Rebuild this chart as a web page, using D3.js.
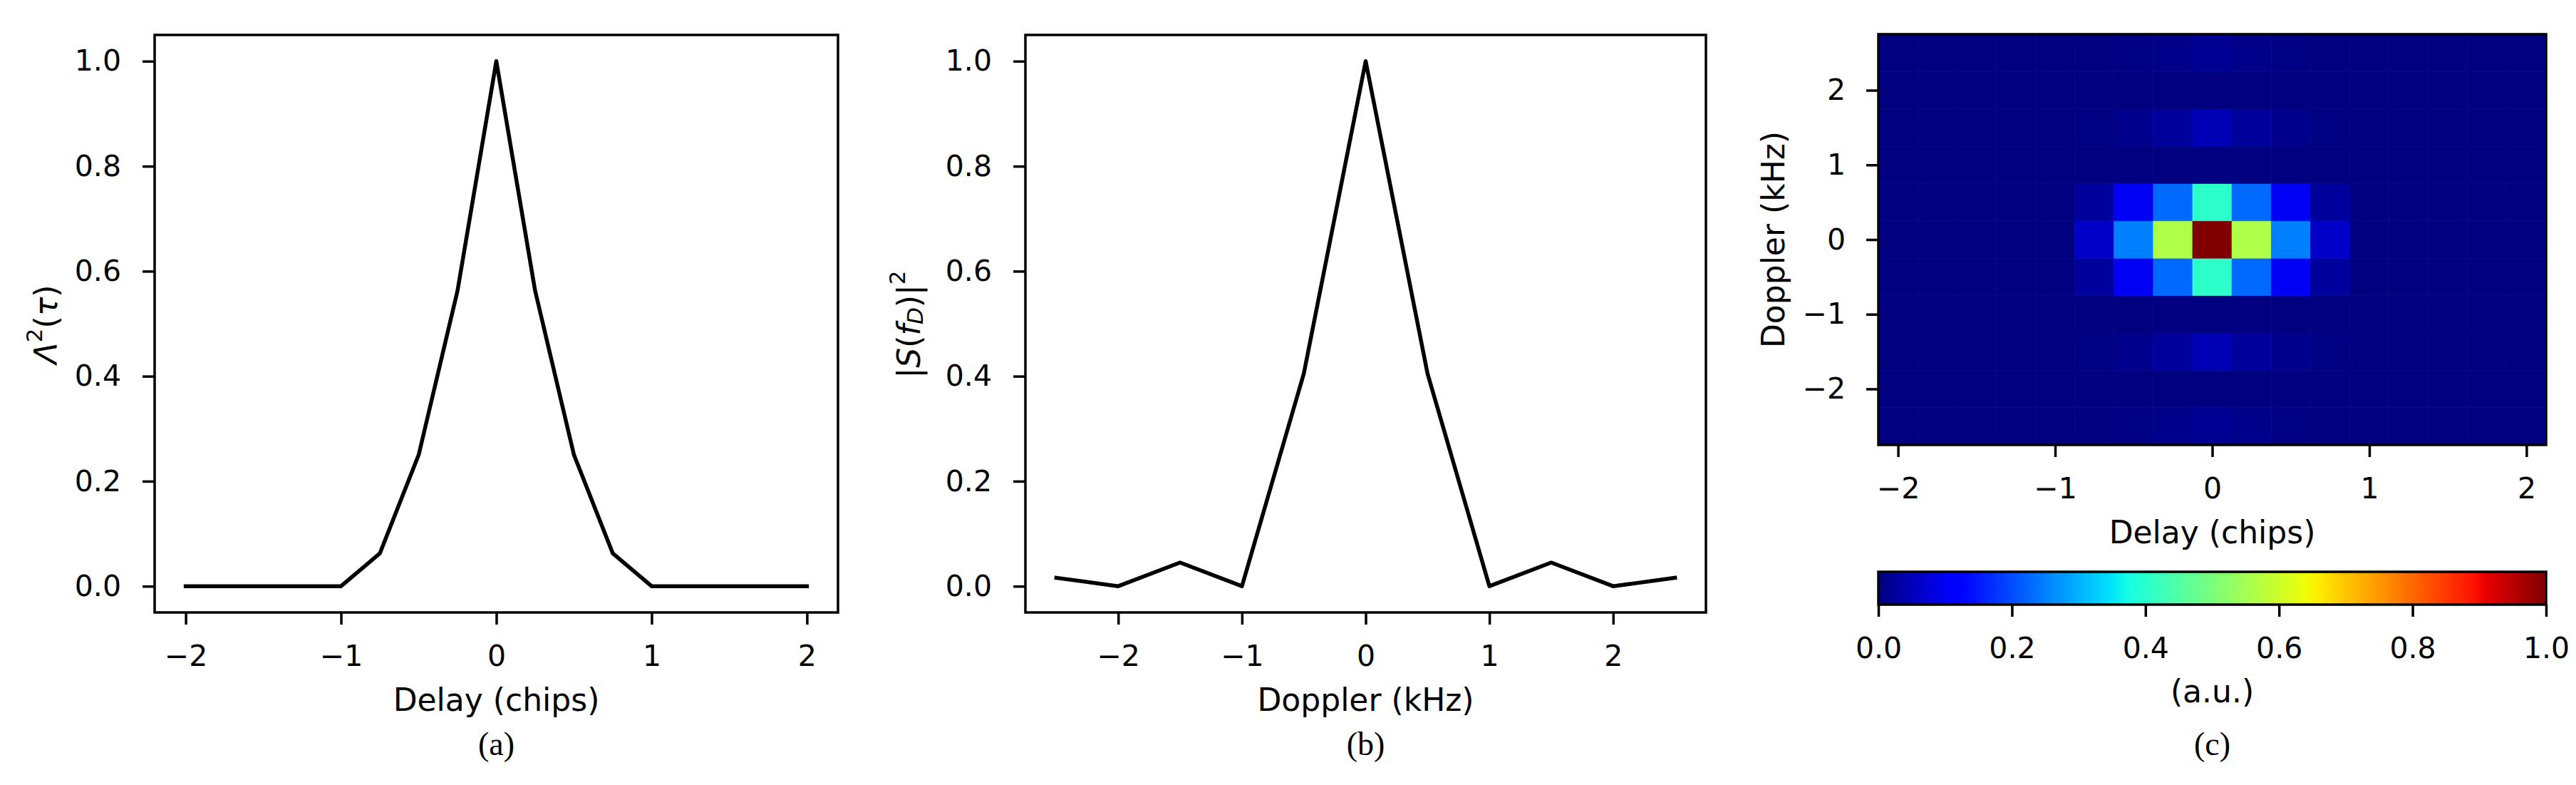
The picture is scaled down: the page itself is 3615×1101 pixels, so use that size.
<!DOCTYPE html>
<html><head><meta charset="utf-8">
<script src="https://cdn.jsdelivr.net/npm/d3@7"></script>
<style>
body{margin:0;background:#fff}
svg{display:block}
text{fill:#000}
</style>
</head><body>
<svg id="chart" width="3615" height="1101" font-family="DejaVu Sans, sans-serif"></svg>
<script>
// ---------- data ----------
const delays = [-2,-1.75,-1.5,-1.25,-1,-0.75,-0.5,-0.25,0,0.25,0.5,0.75,1,1.25,1.5,1.75,2];
const delayPower = [0,0,0,0,0,0.0625,0.25,0.5625,1,0.5625,0.25,0.0625,0,0,0,0,0];
const dopplers = [-2.5,-2,-1.5,-1,-0.5,0,0.5,1,1.5,2,2.5];
const dopplerPower = [0.016,0,0.045,0,0.405,1,0.405,0,0.045,0,0.016];
const delayTicks = [-2,-1,0,1,2];
const dopplerTicks = [-2,-1,0,1,2];
const powerTicks = [0,0.2,0.4,0.6,0.8,1.0];
const colorbarTicks = [0,0.2,0.4,0.6,0.8,1.0];
// heat map rows follow the dopplers order, columns follow the delays order
const heatValues = [
  [0,0,0,0,0,0.001,0.004,0.009,0.016,0.009,0.004,0.001,0,0,0,0,0],
  [0,0,0,0,0,0,0,0,0,0,0,0,0,0,0,0,0],
  [0,0,0,0,0,0.003,0.011,0.025,0.045,0.025,0.011,0.003,0,0,0,0,0],
  [0,0,0,0,0,0,0,0,0,0,0,0,0,0,0,0,0],
  [0,0,0,0,0,0.025,0.101,0.228,0.405,0.228,0.101,0.025,0,0,0,0,0],
  [0,0,0,0,0,0.0625,0.25,0.5625,1,0.5625,0.25,0.0625,0,0,0,0,0],
  [0,0,0,0,0,0.025,0.101,0.228,0.405,0.228,0.101,0.025,0,0,0,0,0],
  [0,0,0,0,0,0,0,0,0,0,0,0,0,0,0,0,0],
  [0,0,0,0,0,0.003,0.011,0.025,0.045,0.025,0.011,0.003,0,0,0,0,0],
  [0,0,0,0,0,0,0,0,0,0,0,0,0,0,0,0,0],
  [0,0,0,0,0,0.001,0.004,0.009,0.016,0.009,0.004,0.001,0,0,0,0,0]
];

// ---------- jet colormap (matplotlib segment data) ----------
const seg = p => d3.scaleLinear().domain(p.map(d=>d[0])).range(p.map(d=>d[1])).clamp(true);
const jr = seg([[0,0],[0.35,0],[0.66,1],[0.89,1],[1,0.5]]);
const jg = seg([[0,0],[0.125,0],[0.375,1],[0.64,1],[0.91,0],[1,0]]);
const jb = seg([[0,0.5],[0.11,1],[0.34,1],[0.65,0],[1,0]]);
const jet = t => d3.rgb(jr(t)*255, jg(t)*255, jb(t)*255).formatHex();

const svg = d3.select("#chart");
svg.append("rect").attr("width",3615).attr("height",1101).attr("fill","#fff");

const TICK = 17, PAD = 29, TICKFS = 41, LABFS = 44, LW = 3.5;
const SANS = "'DejaVu Sans', sans-serif";
const SERIF = "'Liberation Serif', 'Times New Roman', serif";

function styleAxis(g){
  g.attr("font-family",null).attr("font-size",null);
  g.select(".domain").remove();
  g.selectAll(".tick line").attr("stroke","#000").attr("stroke-width",LW);
  g.selectAll(".tick text").attr("fill","#000")
    .style("font-family",SANS).style("font-size",TICKFS+"px");
}

function rotLabel(x, y, parts){
  const t = svg.append("text").attr("transform",`translate(${x},${y}) rotate(-90)`)
    .attr("text-anchor","middle").attr("dominant-baseline","central")
    .style("font-family",SANS).style("font-size",LABFS+"px");
  parts.forEach(p=>{
    const s = t.append("tspan").text(p.t);
    if(p.i) s.style("font-style","italic");
    if(p.fs) s.style("font-size",p.fs+"px");
    if(p.dy) s.attr("dy",p.dy);
  });
}

function hLabel(x, y, txt){
  svg.append("text").attr("x",x).attr("y",y).attr("text-anchor","middle")
    .style("font-family",SANS).style("font-size",LABFS+"px").text(txt);
}

function caption(x, txt){
  svg.append("text").attr("x",x).attr("y",1059).attr("text-anchor","middle")
    .style("font-family",SERIF).style("font-size","46px").text(txt);
}

function linePanel(o){
  const x = d3.scaleLinear().domain(o.xDomain).range([o.left,o.right]);
  const y = d3.scaleLinear().domain([-0.05,1.05]).range([o.bottom,o.top]);
  const g = svg.append("g");
  g.append("path").datum(o.xs.map((v,i)=>[v,o.ys[i]]))
    .attr("fill","none").attr("stroke","#000").attr("stroke-width",5.5)
    .attr("stroke-linejoin","round").attr("stroke-linecap","square")
    .attr("d", d3.line().x(d=>x(d[0])).y(d=>y(d[1])));
  g.append("g").attr("transform",`translate(0,${o.bottom})`)
    .call(d3.axisBottom(x).tickValues(o.xTicks).tickSize(TICK).tickPadding(PAD).tickFormat(d3.format("d")))
    .call(styleAxis);
  g.append("g").attr("transform",`translate(${o.left},0)`)
    .call(d3.axisLeft(y).tickValues(powerTicks).tickSize(TICK).tickPadding(PAD+1).tickFormat(d3.format(".1f")))
    .call(styleAxis);
  g.append("rect").attr("x",o.left).attr("y",o.top).attr("width",o.right-o.left).attr("height",o.bottom-o.top)
    .attr("fill","none").attr("stroke","#000").attr("stroke-width",LW);
  hLabel((o.left+o.right)/2, 997, o.xlabel);
  caption((o.left+o.right)/2, o.caption);
}

// (a)
linePanel({left:217,right:1176,top:49,bottom:859,xDomain:[-2.2,2.2],xs:delays,ys:delayPower,
  xTicks:delayTicks,xlabel:"Delay (chips)",caption:"(a)"});
rotLabel(64,455,[{t:"Λ",i:true},{t:"2",fs:31,dy:-16},{t:"(",dy:16},{t:"τ",i:true},{t:")"}]);

// (b)
linePanel({left:1439,right:2394,top:49,bottom:859,xDomain:[-2.75,2.75],xs:dopplers,ys:dopplerPower,
  xTicks:dopplerTicks,xlabel:"Doppler (kHz)",caption:"(b)"});
rotLabel(1275,455,[{t:"|"},{t:"S",i:true},{t:"("},{t:"f",i:true},{t:"D",i:true,fs:31,dy:9},{t:")",dy:-9},{t:"|"},{t:"2",fs:31,dy:-16}]);

// (c) heat map
const hL=2636,hR=3573,hT=48,hB=624;
const dStep = delays[1]-delays[0], fStep = dopplers[1]-dopplers[0];
const hx = d3.scaleLinear().domain([delays[0]-dStep/2, delays[delays.length-1]+dStep/2]).range([hL,hR]);
const hy = d3.scaleLinear().domain([dopplers[0]-fStep/2, dopplers[dopplers.length-1]+fStep/2]).range([hB,hT]);
const cells = [];
heatValues.forEach((row,j)=>row.forEach((v,i)=>cells.push({d:delays[i],f:dopplers[j],v})));
const hg = svg.append("g");
hg.selectAll("rect").data(cells).join("rect")
  .attr("x",c=>hx(c.d-dStep/2)).attr("width",c=>hx(c.d+dStep/2)-hx(c.d-dStep/2))
  .attr("y",c=>hy(c.f+fStep/2)).attr("height",c=>hy(c.f-fStep/2)-hy(c.f+fStep/2))
  .attr("fill",c=>jet(c.v)).attr("stroke",c=>jet(c.v)).attr("stroke-width",0.6);
hg.append("g").attr("transform",`translate(0,${hB})`)
  .call(d3.axisBottom(hx).tickValues(delayTicks).tickSize(TICK).tickPadding(PAD).tickFormat(d3.format("d")))
  .call(styleAxis);
hg.append("g").attr("transform",`translate(${hL},0)`)
  .call(d3.axisLeft(hy).tickValues(dopplerTicks).tickSize(TICK).tickPadding(PAD).tickFormat(d3.format("d")))
  .call(styleAxis);
hg.append("rect").attr("x",hL).attr("y",hT).attr("width",hR-hL).attr("height",hB-hT)
  .attr("fill","none").attr("stroke","#000").attr("stroke-width",LW);
hLabel((hL+hR)/2, 762, "Delay (chips)");
rotLabel(2488,(hT+hB)/2,[{t:"Doppler (kHz)"}]);

// colorbar
const cT=802,cB=848;
const cx = d3.scaleLinear().domain([0,1]).range([hL,hR]);
const grad = svg.append("defs").append("linearGradient").attr("id","jetgrad")
  .attr("x1","0%").attr("x2","100%").attr("y1","0%").attr("y2","0%");
d3.range(0,1.0001,0.01).forEach(t=>grad.append("stop").attr("offset",(t*100)+"%").attr("stop-color",jet(t)));
svg.append("rect").attr("x",hL).attr("y",cT).attr("width",hR-hL).attr("height",cB-cT).attr("fill","url(#jetgrad)");
svg.append("g").attr("transform",`translate(0,${cB})`)
  .call(d3.axisBottom(cx).tickValues(colorbarTicks).tickSize(TICK).tickPadding(PAD).tickFormat(d3.format(".1f")))
  .call(styleAxis);
svg.append("rect").attr("x",hL).attr("y",cT).attr("width",hR-hL).attr("height",cB-cT)
  .attr("fill","none").attr("stroke","#000").attr("stroke-width",LW);
hLabel((hL+hR)/2, 985, "(a.u.)");
caption((hL+hR)/2,"(c)");
</script>
</body></html>
